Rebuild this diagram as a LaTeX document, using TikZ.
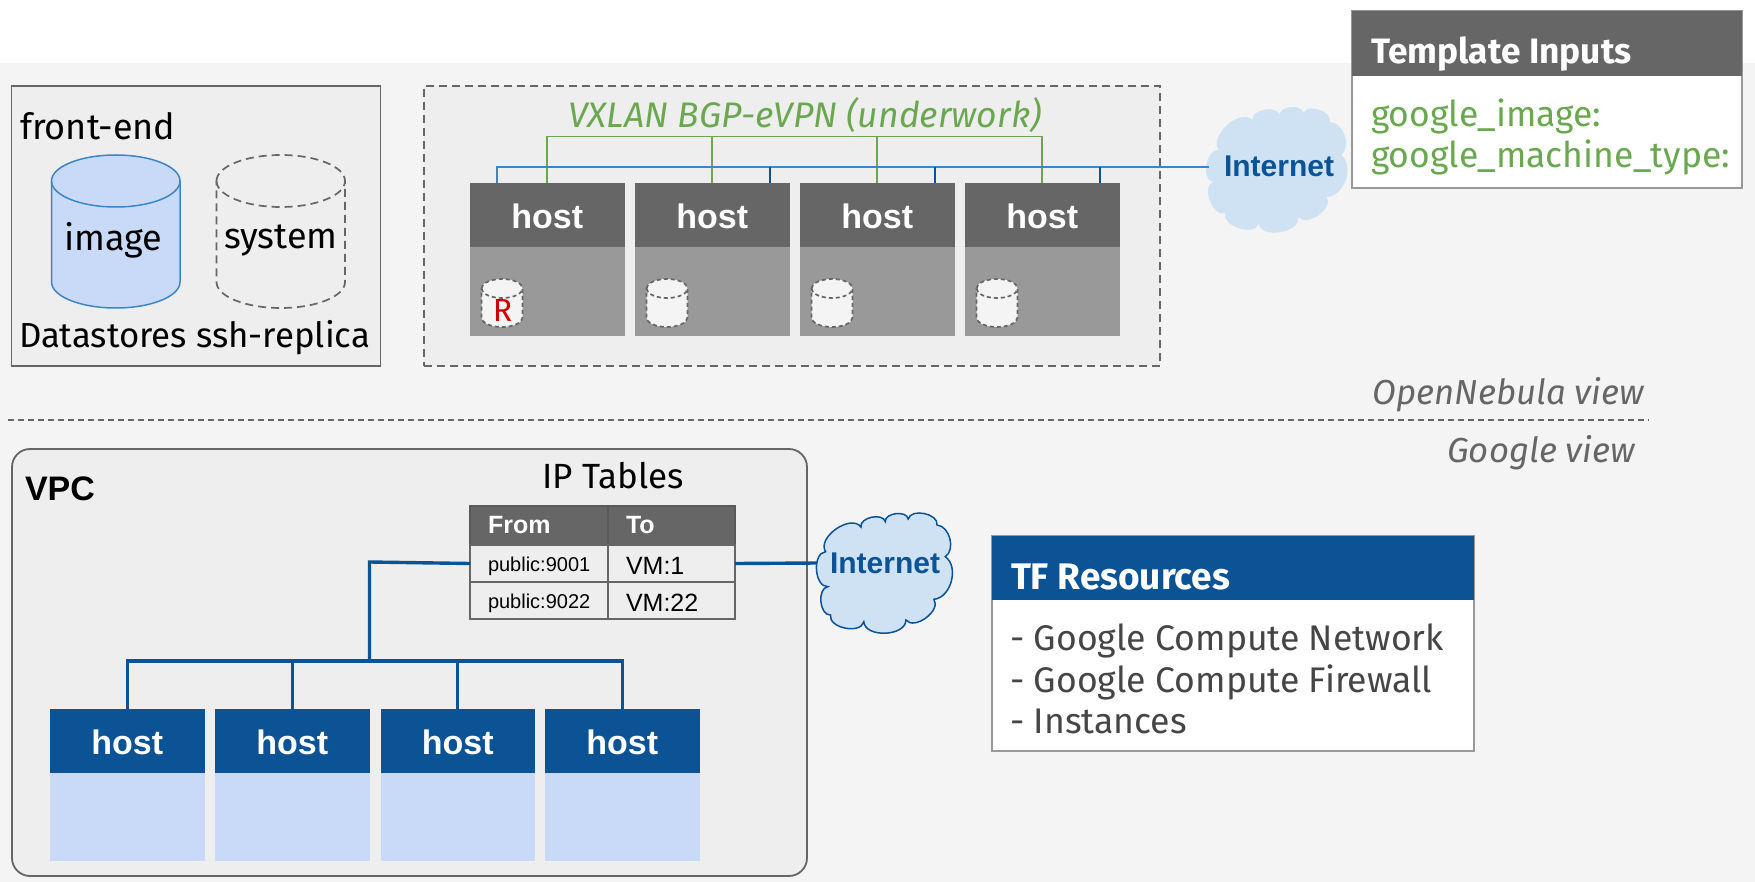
\documentclass[tikz,border=0pt]{standalone}
\usepackage{fontspec}
\setmainfont{Fira Sans}
\newfontfamily\arial{Liberation Sans}
\usetikzlibrary{calc}
\definecolor{bgc}{HTML}{F4F4F4}
\definecolor{boxc}{HTML}{EEEEEE}
\definecolor{strk}{HTML}{666666}
\definecolor{dblue}{HTML}{0B5394}
\definecolor{lblue}{HTML}{C9DAF8}
\definecolor{mblue}{HTML}{3D85C6}
\definecolor{grn}{HTML}{6AA84F}
\definecolor{cloudc}{HTML}{CFE2F3}
\definecolor{gbody}{HTML}{999999}
\definecolor{rd}{HTML}{CC0000}
\newcommand{\fsz}[1]{\fontsize{#1}{#1}\selectfont}
% left, top, width, height, ellipse half-height, style
\newcommand{\drumshape}[6]{%
  \pgfmathsetmacro{\dl}{#1}\pgfmathsetmacro{\dr}{#1+#3}\pgfmathsetmacro{\dc}{#1+#3/2}%
  \pgfmathsetmacro{\dt}{#2}\pgfmathsetmacro{\dm}{#2+#5}\pgfmathsetmacro{\dk}{#2+2*#5}%
  \pgfmathsetmacro{\dbm}{#2+#4-#5}\pgfmathsetmacro{\db}{#2+#4}%
  \pgfmathsetmacro{\kx}{0.5523*#3/2}\pgfmathsetmacro{\ky}{0.5523*#5}%
  \pgfmathsetmacro{\cla}{\dc-\kx}\pgfmathsetmacro{\clb}{\dc+\kx}%
  \pgfmathsetmacro{\tua}{\dm-\ky}\pgfmathsetmacro{\tda}{\dm+\ky}%
  \pgfmathsetmacro{\bua}{\dbm+\ky}%
  \path[#6] (\dl,\dm) .. controls (\dl,\tua) and (\cla,\dt) .. (\dc,\dt)
     .. controls (\clb,\dt) and (\dr,\tua) .. (\dr,\dm)
     -- (\dr,\dbm) .. controls (\dr,\bua) and (\clb,\db) .. (\dc,\db)
     .. controls (\cla,\db) and (\dl,\bua) .. (\dl,\dbm) -- cycle;
  \path[#6,fill=none] (\dl,\dm) .. controls (\dl,\tda) and (\cla,\dk) .. (\dc,\dk)
     .. controls (\clb,\dk) and (\dr,\tda) .. (\dr,\dm);
}
\tikzset{
  x=1pt,y=-1pt,
  every node/.style={inner sep=0pt,outer sep=0pt},
  hosthead/.style={rectangle,anchor=north west,minimum width=154.5pt,minimum height=64pt,text=white,font=\arial\bfseries\fsz{34},text height=27pt,text depth=0pt},
  hostbody/.style={rectangle,anchor=north west,minimum width=154.5pt,minimum height=89pt},
  smalldrum/.style={draw=strk,fill=bgc,dash pattern=on 4pt off 3pt,line width=1.7pt},
  lbl/.style={anchor=base west,font=\fsz{36}},
  cellhead/.style={rectangle,draw=black!65,fill=strk,line width=1.3pt,anchor=north west,align=left,inner xsep=18pt,minimum height=39pt,text=white,font=\arial\bfseries\fsz{25}},
  cell/.style={rectangle,draw=strk,line width=1.3pt,anchor=north west,align=left,inner xsep=18pt,minimum height=37pt},
  smallcell/.style={cell,text width=102pt,minimum width=138pt,font=\arial\fsz{20},text height=19pt,text depth=4pt},
  vmcell/.style={cell,text width=91pt,minimum width=127pt,font=\arial\fsz{25},text height=22pt,text depth=0pt},
  cloudtext/.style={font=\arial\bfseries\fsz{30},text=dblue},
  thin bus/.style={line width=1.8pt},
  thick bus/.style={draw=dblue,line width=3.4pt},
  puff/.style={bend left=88},
}
\begin{document}
\begin{tikzpicture}
\useasboundingbox (0,0) rectangle (1755,882);
\fill[white] (0,0) rectangle (1755,882);
\fill[bgc] (0,63) rectangle (1755,882);

% front-end
\node[rectangle,draw=strk,fill=boxc,line width=1.8pt,anchor=north west,minimum width=369pt,minimum height=280pt] (fe) at (11.5,86) {};
\node[lbl,anchor=base west] (fet) at (20,140) {front-end};
\drumshape{51.5}{155}{128.5}{153}{26}{draw=mblue,fill=lblue,line width=1.5pt}
\node[font=\fsz{36}] (imgt) at (113.5,240) {image};
\drumshape{216.5}{155}{128.5}{153}{26}{draw=strk,dash pattern=on 8pt off 5pt,line width=1.7pt}
\node[font=\fsz{36}] (syst) at (281,241) {system};
\node[lbl,font=\fsz{34.8}] (dst) at (19,347) {Datastores ssh-replica};

% VXLAN box
\node[rectangle,draw=strk,dash pattern=on 8pt off 5pt,fill=boxc,line width=1.8pt,anchor=north west,minimum width=736pt,minimum height=280pt] (vx) at (424,86) {};
\node[font=\itshape\fsz{35.5},text=grn] (vxt) at (805,115) {VXLAN BGP-eVPN (underwork)};

\foreach \n/\x in {1/470,2/635,3/800,4/965}{
  \node[hostbody,fill=gbody] (b\n) at (\x,247.5) {};
  \node[hosthead,fill=strk] (h\n) at (\x,183.5) {host};
  \drumshape{\x+11.5}{279}{41}{48}{9.5}{smalldrum}
}
\node[font=\fsz{32},text=rd] (r) at (502.5,310) {R};

% cloud 1
\fill[cloudc] (1219,150) to[puff] (1252.5,120) to[puff] (1279.6,115) to[puff] (1303.4,113) to[puff] (1329.7,122) to[bend left=70] (1341.4,155) to[bend left=70] (1326.8,197) to[puff] (1298.4,217) to[puff] (1258.7,224) to[puff] (1225.3,213) to[puff] (1212.8,182) to[puff] (1219,150) -- cycle;
\coordinate (cl1) at (1209,167);

% buses top
\coordinate (gb) at (547.5,136.5);
\coordinate (bb) at (497,167);
\draw[grn,thin bus] (h1.north) -- (h1.north |- gb) -- (h4.north |- gb) -- (h4.north);
\draw[grn,thin bus] (h2.north) -- (h2.north |- gb);
\draw[grn,thin bus] (h3.north) -- (h3.north |- gb);
\coordinate (d1) at ($(h1.north west)+(27,0)$);
\coordinate (d2) at ($(h2.north west)+(135,0)$);
\coordinate (d3) at ($(h3.north west)+(135,0)$);
\coordinate (d4) at ($(h4.north west)+(135,0)$);
\draw[mblue,thin bus] (d1) -- (d1 |- bb) -- (cl1);
\draw[dblue,thin bus] (d2) -- (d2 |- bb);
\draw[dblue,thin bus] (d3) -- (d3 |- bb);
\draw[dblue,thin bus] (d4) -- (d4 |- bb);
\node[cloudtext] (it1b) at (1279,166) {Internet};

% template inputs
\node[rectangle,draw=gbody,fill=white,line width=1.8pt,anchor=north west,minimum width=390pt,minimum height=177pt] (tib) at (1352,11) {};
\node[rectangle,fill=strk,anchor=north west,minimum width=390pt,minimum height=65pt] (tih) at (1352,11) {};
\node[lbl,font=\bfseries\fsz{35.3},text=white] (tit) at (1371,64) {Template Inputs};
\node[lbl,font=\fsz{35.5},text=grn] (ti1) at (1371,127) {google\_image:};
\node[lbl,font=\fsz{35.5},text=grn] (ti2) at (1371,168) {google\_machine\_type:};

% views
\node[anchor=base east,font=\itshape\fsz{34.7},text=strk] (onv) at (1644,404) {OpenNebula view};
\draw[strk,dash pattern=on 6pt off 4pt,line width=1.2pt] (8,420) -- (1649,420);
\node[anchor=base east,font=\itshape\fsz{34.7},text=strk] (gv) at (1635,462) {Google view};

% VPC
\node[rectangle,rounded corners=18pt,draw=strk,fill=boxc,line width=1.8pt,anchor=north west,minimum width=795pt,minimum height=427pt] (vpc) at (12,449) {};
\node[anchor=base west,font=\arial\bfseries\fsz{34}] (vpct) at (25,500) {VPC};
\node[font=\fsz{35}] (ipt) at (613,476) {IP Tables};

\node[cellhead,text width=102pt,minimum width=138pt] (tf) at (470,506) {From};
\node[cellhead,text width=91pt,minimum width=127pt] (tt) at (608,506) {To};
\node[smallcell] (c11) at (470,545) {public:9001};
\node[vmcell] (c12) at (608,545) {VM:1};
\node[smallcell] (c21) at (470,582) {public:9022};
\node[vmcell] (c22) at (608,582) {VM:22};

\foreach \n/\x in {1/50,2/215,3/380.5,4/545}{
  \node[hostbody,fill=lblue] (gb\n) at (\x,772) {};
  \node[hosthead,fill=dblue] (gh\n) at (\x,708.5) {host};
}
\coordinate (vb) at (369.5,661);
\coordinate (vj) at (369.5,562);
\draw[thick bus] (c11.west) -- (vj) -- (vb);
\draw[thick bus] (gh1.north) -- (gh1.north |- vb) -- (gh4.north |- vb) -- (gh4.north);
\draw[thick bus] (gh2.north) -- (gh2.north |- vb);
\draw[thick bus] (gh3.north) -- (gh3.north |- vb);

% cloud 2
\coordinate (cl2) at (818,563);
\draw[thick bus] (c12.east) -- (cl2);
\draw[fill=cloudc,draw=dblue,line width=1.5pt] (825.6,551.7) to[puff] (861,527) to[puff] (885.3,521.7) to[puff] (908.2,519) to[puff] (937,525) to[bend left=70] (945.3,556.7) to[bend left=70] (933.9,599.3) to[puff] (905.9,620) to[puff] (863.8,621.7) to[puff] (830.5,615) to[puff] (827.9,586.7) to[puff] (825.6,551.7) -- cycle;
\node[cloudtext] (it2) at (885,563) {Internet};

% TF resources
\node[rectangle,draw=gbody,fill=white,line width=1.8pt,anchor=north west,minimum width=482pt,minimum height=215pt] (tfb) at (992,536) {};
\node[rectangle,fill=dblue,anchor=north west,minimum width=482pt,minimum height=64pt] (tfh) at (992,536) {};
\node[lbl,font=\bfseries\fsz{37},text=white] (tft) at (1011,589) {TF Resources};
\node[lbl,font=\fsz{35.6},text=black!73] (tf1) at (1010,650) {- Google Compute Network};
\node[lbl,font=\fsz{35.6},text=black!73] (tf2) at (1010,692) {- Google Compute Firewall};
\node[lbl,font=\fsz{35.6},text=black!73] (tf3) at (1010,733) {- Instances};
\end{tikzpicture}
\end{document}
